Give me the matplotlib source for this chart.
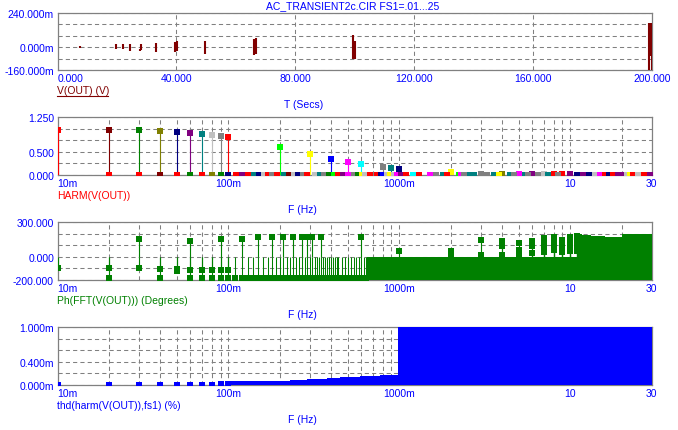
import numpy as np
import matplotlib
matplotlib.use("Agg")
import matplotlib.pyplot as plt
from matplotlib.lines import Line2D

plt.rcParams['font.family'] = ['Liberation Sans', 'DejaVu Sans']
FS = 7.5

# ---------------- colours (MicroCap palette) ----------------
RED, MAROON, GREEN, OLIVE = '#FF0000', '#800000', '#008000', '#808000'
NAVY, PURPLE, TEAL, SILVER = '#000080', '#800080', '#008080', '#C0C0C0'
GRAY, LIME, YELLOW, BLUE = '#808080', '#00FF00', '#FFFF00', '#0000FF'
FUCHSIA, AQUA = '#FF00FF', '#00FFFF'

# ---------------- data ----------------
title = "AC_TRANSIENT2c.CIR FS1=.01...25"

# Panel 1: V(OUT) bursts  (time s, min mV, max mV)
burst_t  = [7.6, 19.7, 21.9, 24.5, 27.7, 28.1, 33.2, 39.4, 40.1, 49.6, 66.1, 66.7, 99.6, 100.2, 199.0, 199.6, 200.1]
burst_lo = [-10, -17, -17, -27, -27, -24, -34, -34, -29, -46, -53, -48, -81, -81, -175, -60, -175]
burst_hi = [8, 22, 22, 22, -13, 22, 30, 36, 41, 43, 55, 65, 86, 43, 165, 170, 170]

# Panel 2: HARM(V(OUT)) main harmonics
harm_f = [0.01, 0.02, 0.03, 0.04, 0.05, 0.06, 0.07, 0.08, 0.09, 0.1,
          0.2, 0.3, 0.4, 0.5, 0.6, 0.8, 0.9, 1.0,
          2.0, 3.0, 4.0, 5.0, 6.0, 7.0, 8.0, 9.0, 10.0]
harm_v = [0.975, 0.975, 0.975, 0.955, 0.93, 0.91, 0.89, 0.865, 0.85, 0.83,
          0.61, 0.45, 0.35, 0.28, 0.24, 0.18, 0.15, 0.13,
          0.07, 0.03, 0.03, 0.015, 0.02, 0.02, 0.015, 0.015, 0.02]
harm_c = [RED, MAROON, GREEN, OLIVE, NAVY, PURPLE, TEAL, SILVER, GRAY, RED,
          LIME, YELLOW, BLUE, FUCHSIA, AQUA, GRAY, TEAL, NAVY,
          YELLOW, GRAY, OLIVE, FUCHSIA, PURPLE, SILVER, RED, RED, PURPLE]

# Panel 2: near-zero harmonics along the baseline
base_f = [0.02, 0.03, 0.04, 0.05, 0.06, 0.07, 0.08, 0.09, 0.1,
          0.111, 0.120, 0.130, 0.141, 0.151, 0.161, 0.170, 0.180, 0.193, 0.212,
          0.226, 0.241, 0.257, 0.273, 0.290, 0.323, 0.342, 0.363, 0.387, 0.413,
          0.436, 0.470, 0.503, 0.541, 0.576, 0.605, 0.633, 0.677, 0.741, 0.778,
          0.806, 0.844, 0.886, 0.931, 0.969, 1.02, 1.10, 1.197, 1.30, 1.52,
          1.64, 1.81, 1.9, 2.24, 2.3, 2.4, 2.6, 2.75, 3.25, 3.6, 3.85, 4.45,
          4.7, 5.45, 5.7, 6.45, 7.4, 8.5, 10.9, 11.9, 12.9, 13.9, 14.9, 16.0,
          16.9, 17.9, 19.0, 20.1, 21.5, 22.5, 23.4, 24.8, 26.9, 29.4]
base_c = [RED, RED, MAROON, RED, GREEN, RED, OLIVE, GREEN, NAVY,
          RED, PURPLE, RED, TEAL, NAVY, SILVER, RED, GRAY, RED, TEAL,
          MAROON, SILVER, NAVY, GRAY, RED, SILVER, TEAL, GRAY, GREEN, LIME,
          RED, PURPLE, FUCHSIA, GRAY, GREEN, YELLOW, SILVER, RED, RED, NAVY,
          BLUE, SILVER, YELLOW, SILVER, FUCHSIA, PURPLE, RED, AQUA, RED, FUCHSIA,
          GRAY, TEAL, RED, LIME, FUCHSIA, GRAY, TEAL, TEAL, GRAY, TEAL, YELLOW, TEAL,
          GRAY, TEAL, GRAY, GRAY, TEAL, GRAY, NAVY, PURPLE, NAVY, SILVER, FUCHSIA, RED,
          NAVY, RED, PURPLE, PURPLE, SILVER, YELLOW, RED, SILVER, RED, PURPLE]

# Panel 3: phase of FFT (degrees)
phase_f = [0.01, 0.02, 0.02, 0.03, 0.03, 0.04, 0.04, 0.05, 0.05, 0.06, 0.06, 0.06,
           0.07, 0.07, 0.08, 0.08, 0.09, 0.09, 0.09, 0.1, 0.1,
           0.12, 0.15, 0.18, 0.21, 0.24, 0.27, 0.29, 0.31, 0.35, 0.6, 1.0,
           2, 2, 3, 3, 4, 4, 4, 5, 5, 5, 6, 6, 6, 7, 7, 7, 7,
           8, 8, 8, 8, 9, 9, 9, 9, 10, 10, 10, 10, 11, 11, 11, 11]
phase_v = [-100, -100, -185, 155, -100, -105, -185, -108, -125, 135, -110, -185,
           -110, -185, -110, -185, 155, -115, -185, -115, -185,
           155, 170, 170, 170, 170, 175, 175, 175, 175, 175, 54,
           48, 20, 150, 20, 135, 92, 20, 118, 60, 10, 135, 92, 35, 165, 125, 85, 45,
           175, 140, 100, 60, 150, 115, 80, 40, 175, 140, 100, 55, 180, 140, 100, 55]
# dense FFT bins whose phase sits near -185 deg
dense_f = [0.11, 0.12, 0.13, 0.14, 0.15, 0.16, 0.17, 0.18, 0.19, 0.20, 0.21, 0.22,
           0.23, 0.24, 0.25, 0.26, 0.27, 0.28, 0.29, 0.30, 0.31, 0.32, 0.33, 0.34,
           0.35, 0.36, 0.37, 0.38, 0.39, 0.40, 0.41, 0.42, 0.43, 0.44, 0.46, 0.48,
           0.50, 0.52, 0.54, 0.56, 0.58, 0.60, 0.62, 0.64]
dense_v = -185
# solid region of overlapping bins (freq, lower, upper)
solid_f = [0.65, 30.0]
solid_lo, solid_hi = -200, 0
# upper envelope of the overlapping bins above zero, 11-30 Hz
env_f = [11.0, 11.7, 13.2, 16.0, 20.0, 30.0]
env_v = [199, 190, 178, 172, 199, 199]

# Panel 4: THD (m%)
thd_f = [0.01, 0.02, 0.03, 0.04, 0.05, 0.06, 0.07, 0.08, 0.09, 0.1]
thd_v = [0.0, 0.0, 0.0, 0.0, 0.0, 0.0, 0.0, 0.0, 0.015, 0.015]
thd_env_f = [0.103, 0.168, 0.23, 0.287, 0.376, 0.45, 0.49, 0.59, 0.77, 0.985]
thd_env_v = [0.064, 0.075, 0.092, 0.104, 0.121, 0.133, 0.144, 0.162, 0.173, 0.173]
thd_high_f = [0.985, 30.0]
thd_high_v = 1.5

# ---------------- figure ----------------
W, H = 678, 431
fig = plt.figure(figsize=(W / 100, H / 100), dpi=100)
L, R = 57.5, 651.7


def make_ax(top, bot):
    return fig.add_axes([L / W, 1 - bot / H, (R - L) / W, (bot - top) / H])


def style(ax):
    for s in ax.spines.values():
        s.set_color(GRAY)
        s.set_linewidth(0.9)
    ax.set_axisbelow(True)
    ax.tick_params(which='both', length=0, labelsize=FS, labelcolor=BLUE)
    ax.tick_params(axis='x', pad=2.5)
    ax.tick_params(axis='y', pad=2.5)
    ax.grid(which='both', color=GRAY, linestyle=(0, (4, 3)), linewidth=0.75)


def log_x(ax):
    ax.set_xscale('log')
    ax.set_xlim(0.01, 30)
    ax.set_xticks([0.01, 0.1, 1, 10, 30])
    ax.set_xticklabels(['10m', '100m', '1000m', '10', '30'])
    minors = [0.02, 0.03, 0.04, 0.05, 0.06, 0.07, 0.08, 0.09,
              0.2, 0.3, 0.4, 0.5, 0.6, 0.7, 0.8, 0.9,
              2, 3, 4, 5, 6, 7, 8, 9, 20]
    ax.set_xticks(minors, minor=True)
    ax.set_xticklabels([], minor=True)
    ax.get_xticklabels()[0].set_horizontalalignment('left')


def ftext(x, y, s, color, ha='left'):
    fig.text(x / W, 1 - y / H, s, color=color, fontsize=FS, ha=ha, va='center')


# Title
ftext(353, 6, title, BLUE, ha='center')

# ---- Panel 1 ----
ax1 = make_ax(13.5, 71)
style(ax1)
ax1.set_xlim(0, 200)
ax1.set_ylim(-160, 240)
ax1.set_xticks([0, 40, 80, 120, 160, 200])
ax1.set_xticklabels(['0.000', '40.000', '80.000', '120.000', '160.000', '200.000'])
ax1.get_xticklabels()[0].set_horizontalalignment('left')
ax1.set_yticks([-160, -80, 0, 80, 160, 240])
ax1.set_yticklabels(['-160.000m', '', '0.000m', '', '', '240.000m'])
ax1.vlines(burst_t, burst_lo, burst_hi, color=MAROON, lw=1.5, zorder=3)
ftext(57, 91, 'V(OUT) (V)', MAROON)
fig.add_artist(Line2D([57 / W, 108 / W], [1 - 96.7 / H, 1 - 96.7 / H], color=MAROON, lw=0.8))
ftext(303.5, 105, 'T (Secs)', BLUE, ha='center')

# ---- Panel 2 ----
ax2 = make_ax(118.3, 176)
style(ax2)
log_x(ax2)
ax2.set_ylim(0, 1.25)
ax2.set_yticks([0, 0.25, 0.5, 0.75, 1.0, 1.25])
ax2.set_yticklabels(['0.000', '', '0.500', '', '', '1.250'])
for f, v, c in zip(harm_f, harm_v, harm_c):
    ax2.vlines(f, 0, v, color=c, lw=0.8, zorder=3)
    ax2.plot([f], [v], 's', color=c, ms=4, mew=0, zorder=4)
for f, c in zip(base_f, base_c):
    ax2.plot([f], [0], 's', color=c, ms=4, mew=0, zorder=4)
ftext(57, 196, 'HARM(V(OUT))', RED)
ftext(302.5, 210, 'F (Hz)', BLUE, ha='center')

# ---- Panel 3 ----
ax3 = make_ax(223.3, 281)
style(ax3)
log_x(ax3)
ax3.set_ylim(-200, 300)
ax3.set_yticks([-200, -100, 0, 100, 200, 300])
ax3.set_yticklabels(['-200.000', '', '0.000', '', '', '300.000'])
ax3.vlines(dense_f, 0, dense_v, color=GREEN, lw=0.75, zorder=3)
ax3.plot(dense_f, [dense_v] * len(dense_f), 's', color=GREEN, ms=4, mew=0, zorder=4)
ax3.fill_between(solid_f, solid_lo, solid_hi, color=GREEN, lw=0, zorder=3)
ax3.fill_between(env_f, 0, env_v, color=GREEN, lw=0, step='post', zorder=3)
for f, v in zip(phase_f, phase_v):
    ax3.vlines(f, 0, v, color=GREEN, lw=0.8, zorder=3)
ax3.plot(phase_f, phase_v, 's', color=GREEN, ms=4, mew=0, zorder=4)
ftext(57, 301, 'Ph(FFT(V(OUT))) (Degrees)', GREEN)
ftext(302.5, 315, 'F (Hz)', BLUE, ha='center')

# ---- Panel 4 ----
ax4 = make_ax(328.3, 386)
style(ax4)
log_x(ax4)
ax4.set_ylim(0, 1.0)
ax4.set_yticks([0, 0.2, 0.4, 0.6, 0.8, 1.0])
ax4.set_yticklabels(['0.000m', '', '0.400m', '', '', '1.000m'])
ax4.plot(thd_f, thd_v, 's', color=BLUE, ms=4, mew=0, zorder=4)
ax4.fill_between(thd_env_f, 0, thd_env_v, color=BLUE, lw=0, step='post', zorder=3)
ax4.fill_between(thd_high_f, 0, thd_high_v, color=BLUE, lw=0, zorder=3)
ftext(57, 406, 'thd(harm(V(OUT)),fs1) (%)', BLUE)
ftext(302.5, 420, 'F (Hz)', BLUE, ha='center')

fig.savefig('out.png', dpi=100)
